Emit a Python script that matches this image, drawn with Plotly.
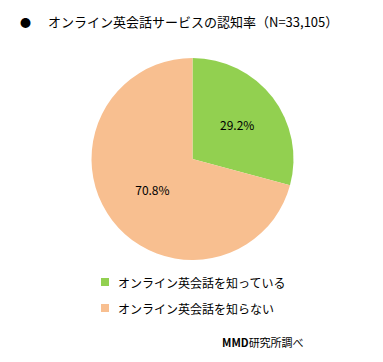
import plotly.graph_objects as go

labels = ["オンライン英会話を知っている", "オンライン英会話を知らない"]
values = [29.2, 70.8]
colors = ["#92D050", "#F8BF90"]
title = "オンライン英会話サービスの認知率（N=33,105）"
source = "<b>MMD</b>研究所調べ"

W, H = 383, 362
FONT = "Noto Sans CJK JP"

fig = go.Figure()
fig.add_trace(go.Pie(
    labels=labels, values=values,
    marker=dict(colors=colors, line=dict(width=0)),
    sort=False, direction="clockwise", rotation=0,
    texttemplate="%{value:.1f}%", textposition="inside",
    insidetextorientation="horizontal",
    textfont=dict(family=FONT, size=12, color="#000000"),
    domain=dict(x=[91.5 / W, 293.5 / W], y=[1 - 260 / H, 1 - 58 / H]),
    showlegend=False, hoverinfo="label+percent",
))

def px(x):
    return x / W

def py(y):
    return 1 - y / H

ann = []
ann.append(dict(x=px(25), y=py(22), text="●", showarrow=False, xanchor="center", yanchor="middle",
                font=dict(family=FONT, size=11, color="#000")))
ann.append(dict(x=px(46), y=py(22), text=title, showarrow=False, xanchor="left", yanchor="middle",
                font=dict(family=FONT, size=13, color="#000")))
shapes = []
for i, (lab, col) in enumerate(zip(labels, colors)):
    yc = 282 + i * 26
    shapes.append(dict(type="rect", xref="paper", yref="paper",
                       x0=px(101), x1=px(109), y0=py(yc + 4), y1=py(yc - 4),
                       fillcolor=col, line=dict(width=0)))
    ann.append(dict(x=px(116), y=py(yc), text=lab, showarrow=False, xanchor="left", yanchor="middle",
                    font=dict(family=FONT, size=12, color="#000")))
ann.append(dict(x=px(220), y=py(342), text=source, showarrow=False, xanchor="left", yanchor="middle",
                font=dict(family=FONT, size=11, color="#000")))

fig.update_layout(
    width=W, height=H, margin=dict(l=0, r=0, t=0, b=0),
    paper_bgcolor="white", plot_bgcolor="white",
    annotations=ann, shapes=shapes,
)
fig.write_html("out.html", config={"displayModeBar": False},
               post_script="document.body.style.margin='0';document.body.style.overflow='hidden';")
